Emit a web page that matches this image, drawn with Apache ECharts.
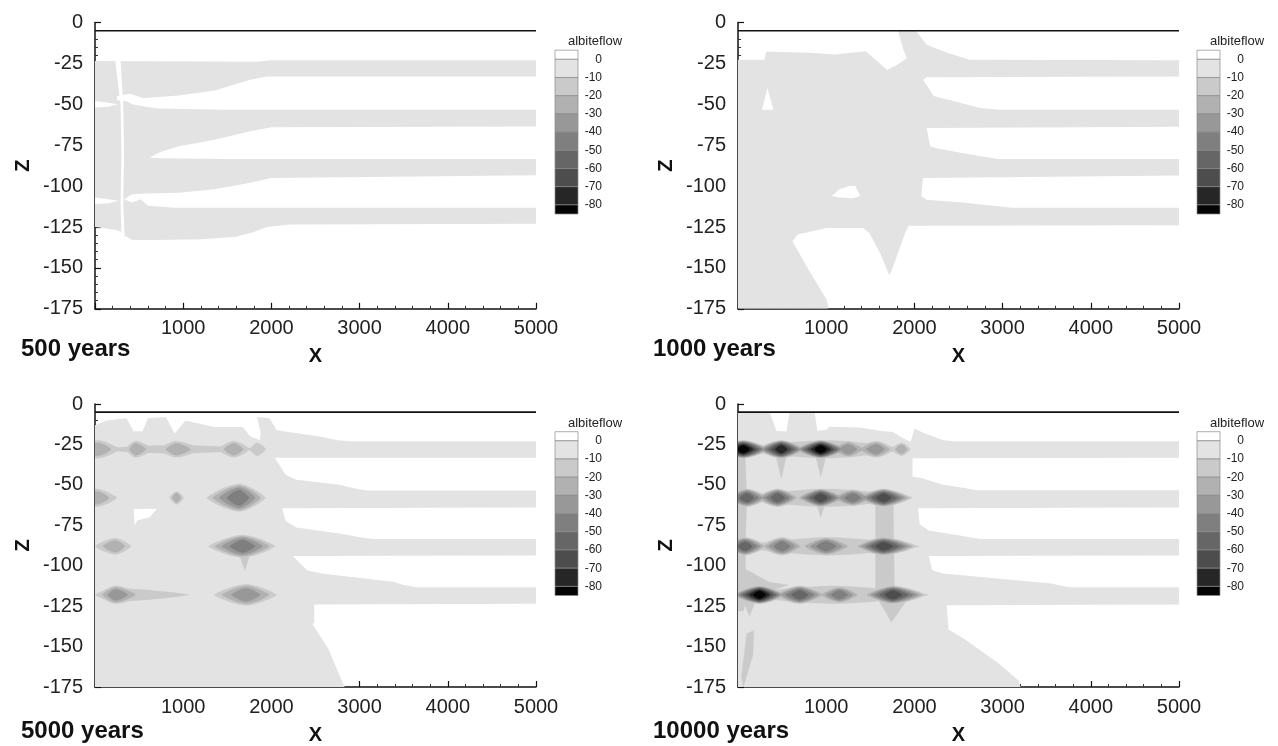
<!DOCTYPE html>
<html>
<head>
<meta charset="utf-8">
<script src="https://cdn.jsdelivr.net/npm/echarts@6/dist/echarts.min.js"></script>
<style>html,body{margin:0;padding:0;background:#fff}#c{width:1278px;height:746px}</style>
</head>
<body>
<div id="c"></div>
<script>
// ---------------- data ----------------
const levelColors = ['#ffffff','#e3e3e3','#cacaca','#b1b1b1','#989898','#7f7f7f','#666666','#4d4d4d','#262626','#050505'];
const legendTicks = [0,-10,-20,-30,-40,-50,-60,-70,-80];
const legendTitle = 'albite\uFB02ow';
const panelTitles = ['500 years','1000 years','5000 years','10000 years'];
const topBoundary = [[0,-5],[5000,-5]];

// 500 years: light region (0..-10) and white gaps (>0)
const p500Gray = [[0,-23.5],[1850,-24],[2000,-23],[5000,-23],[5000,-123],[2200,-123.5],[1950,-125],[1800,-128],[1600,-131],[1200,-132.5],[700,-133],[420,-133],[330,-130],[300,-128],[250,-127],[150,-126],[0,-125]];
const p500Gaps = [
  [[5000,-33],[1950,-33],[1760,-35],[1356,-41.5],[950,-44.6],[600,-46],[420,-47],[330,-47],[420,-50],[700,-52.5],[1500,-53.3],[5000,-53.3]],
  [[5000,-63.5],[2000,-64],[1760,-66.5],[1356,-71.6],[951,-75.7],[750,-79],[620,-82.5],[750,-83],[1500,-83.4],[5000,-83.4]],
  [[5000,-93.4],[2000,-95],[1760,-98],[1356,-102],[951,-104],[600,-104.5],[420,-105],[330,-108],[420,-110],[520,-108],[600,-112],[900,-113.3],[5000,-113.3]],
  [[230,-23.5],[290,-23.5],[320,-50],[330,-80],[320,-110],[335,-130],[300,-130],[290,-110],[300,-80],[290,-50]],
  [[250,-45],[400,-43.5],[560,-46.5],[400,-48.5],[250,-47.5]],
  [[0,-48],[150,-49],[260,-50],[150,-51.5],[0,-52]],
  [[0,-107],[150,-108],[270,-109],[150,-110.5],[0,-111]]
];

// 1000 years
const p1000Gray = [[0,-22.8],[300,-22.8],[320,-17.7],[800,-18.5],[1100,-19.5],[1449,-17.5],[1692,-29],[1800,-26],[1915,-21.8],[1875,-16.7],[1814,-5],[2017,-5],[2139,-13.6],[2382,-18.7],[2625,-22.8],[5000,-23],[5000,-33],[2140,-33.5],[2098,-35],[2220,-45],[2747,-52.3],[2950,-53.3],[5000,-53.3],[5000,-63.7],[2139,-64.5],[2179,-75.7],[2260,-77],[2747,-81.8],[2950,-83.4],[5000,-83.4],[5000,-93.5],[2098,-95],[2078,-106],[2139,-108.3],[2544,-110],[2950,-112.3],[3100,-113.3],[5000,-113.3],[5000,-124],[1936,-124.2],[1895,-128.6],[1733,-153],[1712,-154],[1611,-141],[1489,-128.6],[1420,-125.6],[1002,-125.6],[678,-129.6],[617,-133.7],[799,-151],[1002,-169],[1023,-175],[0,-175]];
const p1000Holes = [
  [[333,-40],[402,-53.3],[272,-53.3]],
  [[1063,-106],[1150,-102],[1260,-100],[1330,-100],[1388,-106],[1300,-107.5],[1150,-107]]
];

// 5000 years
const p5000Gray = [[0,-13.2],[134,-10.2],[357,-8.75],[438,-16.9],[539,-16.9],[600,-8.75],[803,-8.1],[904,-18.3],[1026,-10.2],[1350,-14.2],[1675,-14.2],[1760,-20],[1870,-22.4],[1880,-18],[1837,-8.1],[1979,-8.75],[2060,-16.3],[2567,-20.3],[2749,-22.4],[2900,-23],[5000,-23],[5000,-33.3],[2040,-33.3],[2161,-43.8],[2283,-46.8],[2770,-49.9],[2972,-52.5],[3100,-53.5],[5000,-53.5],[5000,-64],[2121,-64.5],[2161,-72.2],[2283,-76.3],[2810,-80.4],[3000,-82.4],[3150,-83.5],[5000,-83.5],[5000,-93.7],[2243,-94],[2405,-102.8],[2567,-104.8],[3378,-109.9],[3500,-112],[3650,-113.3],[5000,-113.3],[5000,-123.5],[2486,-124],[2486,-135.3],[2465,-136],[2648,-151.6],[2790,-170],[2830,-175],[0,-175]];
const p5000Holes = [[[438,-65],[701,-64.7],[620,-70],[478,-72],[450,-75]]];
// spots: [centre X, centre Z, extent left, extent right, half thickness, deepest level]
const p5000Spots = [
  [900,-28,900,1000,2.5,2],[30,-28,250,250,5.5,3],[458,-28,110,200,5,3],[925,-28,200,260,5,3],[1573,-28,180,180,5,3],[1837,-28,80,100,4,2],
  [20,-58,250,230,5.5,3],[925,-58,80,80,4,3],[1634,-58,370,300,8.5,5],
  [230,-88,230,180,5,3],[1675,-88,390,370,7,5],
  [235,-118,235,830,4,2],[235,-118,200,300,5.5,4],[1715,-118,365,345,6.5,4]
];
const p5000Extra = [[[1640,-94],[1700,-103],[1750,-94]]];

// 10000 years
const p10000Gray = [[0,-5],[359,-5],[435,-16.5],[548,-17],[586,-5],[869,-5],[900,-16.5],[1001,-16],[1039,-14],[1379,-14.5],[1606,-16.5],[1754,-17.3],[1877,-21.4],[1958,-23.4],[1999,-15.3],[2122,-18.3],[2326,-22.4],[2450,-23],[5000,-23],[5000,-33.3],[1979,-33.5],[1979,-44.8],[2081,-45.8],[2326,-49.9],[2570,-52],[2700,-53.4],[5000,-53.4],[5000,-64],[2040,-64.5],[2060,-74.3],[2163,-78.3],[2530,-81.4],[2750,-83.5],[5000,-83.5],[5000,-93.7],[2163,-94],[2203,-102.8],[2326,-104.8],[2938,-107.9],[3550,-111],[3750,-113.3],[5000,-113.3],[5000,-124],[2367,-124.5],[2387,-139.4],[2570,-145.5],[2938,-159.7],[3182,-171],[3203,-175],[0,-175]];
const p10000Extra = [
  [[0,-30],[80,-30],[100,-60],[80,-90],[100,-120],[60,-128],[0,-128]],
  [[40,-168],[100,-142],[180,-140],[170,-155],[60,-175]],
  [[0,-100],[150,-104],[350,-110],[570,-112],[400,-115],[0,-116]],
  [[1560,-60],[1760,-60],[1775,-120],[1560,-120]],
  [[1580,-120],[1930,-120],[1740,-135]],
  [[430,-32],[490,-46],[550,-32]],[[880,-32],[938,-45],[1000,-32]],
  [[890,-62],[938,-70],[985,-62]],[[60,-122],[200,-122],[130,-131]]
];
const p10000Spots = [
  [1000,-28,1000,900,5.5,2],[60,-28,320,300,5.5,9],[490,-28,280,280,5.5,8],[938,-28,300,300,5.5,9],[1250,-28,220,220,5,4],[1570,-28,250,200,5,4],[1856,-28,120,100,4,3],
  [1000,-58,1000,980,5.5,2],[100,-58,260,250,5.5,6],[450,-58,250,250,5.5,6],[938,-58,280,280,5.5,7],[1300,-58,250,250,5,5],[1650,-58,300,320,5.5,7],
  [1030,-88,1030,1030,5.5,2],[80,-88,260,250,5.5,6],[500,-88,250,250,5.5,5],[1000,-88,300,300,5.5,5],[1650,-88,330,380,5.5,7],
  [1080,-118,1080,1080,5.5,2],[245,-118,320,300,5.5,9],[700,-118,300,300,5.5,6],[1150,-118,250,250,5,5],[1754,-118,330,380,5.5,7]
];

// ---------------- shape building ----------------
function prof(u){ return Math.pow(Math.max(0, 1 - Math.pow(u, 1.5)), 0.9); }
function lens(cx, cz, wl, wr, h, f){
  const N = 14, top = [], bot = [];
  const hh = h * Math.pow(f, 0.6);
  for (let i = 0; i <= N; i++) { const u = 1 - i / N; top.push([cx - wl * f * u, cz + hh * prof(u)]); }
  for (let i = 1; i <= N; i++) { const u = i / N; top.push([cx + wr * f * u, cz + hh * prof(u)]); }
  for (let i = N - 1; i >= 0; i--) { const u = i / N; bot.push([cx + wr * f * u, cz - hh * prof(u)]); }
  for (let i = 1; i < N; i++) { const u = i / N; bot.push([cx - wl * f * u, cz - hh * prof(u)]); }
  return top.concat(bot);
}
function buildShapes(gray, holes, spots, extra){
  const out = [{level:1, pts:gray}];
  holes.forEach(p => out.push({level:0, pts:p}));
  const deep = [];
  extra.forEach(p => deep.push({level:2, pts:p}));
  spots.forEach(s => {
    const [cx, cz, wl, wr, h, peak] = s;
    for (let L = 2; L <= peak; L++) {
      const f = peak > 2 ? Math.pow((peak - L + 1) / (peak - 1), 0.7) : 1;
      deep.push({level:L, pts:lens(cx, cz, wl, wr, h, f)});
    }
  });
  deep.sort((a, b) => a.level - b.level);
  return out.concat(deep);
}
const panelShapes = [
  buildShapes(p500Gray, p500Gaps, [], []),
  buildShapes(p1000Gray, p1000Holes, [], []),
  buildShapes(p5000Gray, p5000Holes, p5000Spots, p5000Extra),
  buildShapes(p10000Gray, [], p10000Spots, p10000Extra)
];
const legendBins = [];
legendBins.push({hi: legendTicks[0] + 5, lo: legendTicks[0], level: 0});
for (let i = 0; i < legendTicks.length - 1; i++) legendBins.push({hi: legendTicks[i], lo: legendTicks[i + 1], level: i + 1});
legendBins.push({hi: legendTicks[legendTicks.length - 1], lo: legendTicks[legendTicks.length - 1] - 5, level: legendTicks.length});

// ---------------- layout ----------------
const FONT = 'Liberation Sans, Arial, Helvetica, sans-serif';
const panelPos = [[95, 22.5], [738, 22.5], [95, 404], [738, 404]];
const PW = 441, PH = 286.3;
const grid = [], xAxis = [], yAxis = [], series = [], title = [];
panelPos.forEach((p, i) => {
  grid.push({left: p[0], top: p[1], width: PW, height: PH});
  xAxis.push({type:'value', gridIndex:i, min:0, max:5000, interval:1000,
    name:'X', nameLocation:'middle', nameGap:38, nameTextStyle:{fontFamily:FONT, fontSize:20, fontWeight:'bold', color:'#111'},
    axisLine:{show:true, onZero:false, lineStyle:{color:'#111', width:1.5}},
    axisTick:{show:true, inside:true, length:6, lineStyle:{color:'#111', width:1.2}},
    minorTick:{show:true, splitNumber:5, length:3, lineStyle:{color:'#333', width:1}},
    splitLine:{show:false},
    axisLabel:{fontFamily:FONT, fontSize:20, color:'#222', margin:10, formatter: v => v === 0 ? '' : String(v)}
  });
  yAxis.push({type:'value', gridIndex:i, min:-175, max:0, interval:25,
    name:'Z', nameLocation:'middle', nameRotate:90, nameGap:62, nameTextStyle:{fontFamily:FONT, fontSize:20, fontWeight:'bold', color:'#111'},
    axisLine:{show:true, onZero:false, lineStyle:{color:'#111', width:1.5}},
    axisTick:{show:true, inside:true, length:6, lineStyle:{color:'#111', width:1.2}},
    minorTick:{show:true, splitNumber:5, length:3, lineStyle:{color:'#333', width:1}},
    splitLine:{show:false},
    axisLabel:{fontFamily:FONT, fontSize:20, color:'#222', margin:12}
  });
  const shapes = panelShapes[i];
  series.push({type:'custom', xAxisIndex:i, yAxisIndex:i, clip:true, z:2, silent:true,
    data: shapes.map(s => [s.pts[0][0], s.pts[0][1]]),
    encode:{x:0, y:1},
    renderItem: (params, api) => {
      const s = shapes[params.dataIndex];
      return {type:'polygon', shape:{points: s.pts.map(q => api.coord(q))},
        style:{fill: levelColors[s.level], stroke: s.level > 1 ? levelColors[s.level] : null, lineWidth: 0.3}};
    }
  });
  series.push({type:'line', xAxisIndex:i, yAxisIndex:i, data: topBoundary, symbol:'none', z:5, silent:true,
    lineStyle:{color:'#111', width:1.6}});
  title.push({text: panelTitles[i], left: i % 2 === 0 ? 21 : 653, top: p[1] + 315, padding:0,
    textStyle:{fontFamily:FONT, fontSize:24, fontWeight:'bold', color:'#111'}});
});
// colour bars
const barPos = [[555, 41.1], [1197, 41.1], [555, 422.6], [1197, 422.6]];
barPos.forEach((b, j) => {
  const gi = 4 + j;
  grid.push({left: b[0], top: b[1], width: 23, height: 182});
  xAxis.push({type:'value', gridIndex:gi, min:0, max:1, show:false});
  yAxis.push({type:'value', gridIndex:gi, min:-90, max:10, interval:10, position:'right',
    axisLine:{show:false}, axisTick:{show:false}, splitLine:{show:false},
    axisLabel:{fontFamily:FONT, fontSize:12, color:'#222', align:'right', margin:24,
      formatter: v => legendTicks.indexOf(v) >= 0 ? String(v) : ''}
  });
  series.push({type:'custom', xAxisIndex:gi, yAxisIndex:gi, silent:true, z:3,
    data: legendBins.map(d => [0, d.hi, d.lo, d.level]),
    encode:{x:0, y:[1,2]},
    renderItem: (params, api) => {
      const p1 = api.coord([0, api.value(1)]);
      const p2 = api.coord([1, api.value(2)]);
      return {type:'rect', shape:{x:p1[0], y:p1[1], width:p2[0]-p1[0], height:p2[1]-p1[1]},
        style:{fill: levelColors[api.value(3)], stroke:'#8a8a8a', lineWidth:0.7}};
    }
  });
  title.push({text: legendTitle, left: b[0] + 13, top: b[1] - 6, padding:0,
    textStyle:{fontFamily:FONT, fontSize:13, fontWeight:'normal', color:'#222'}});
});

const chart = echarts.init(document.getElementById('c'), null, {renderer:'canvas'});
chart.setOption({backgroundColor:'#ffffff', animation:false, title, grid, xAxis, yAxis, series});
</script>
</body>
</html>
